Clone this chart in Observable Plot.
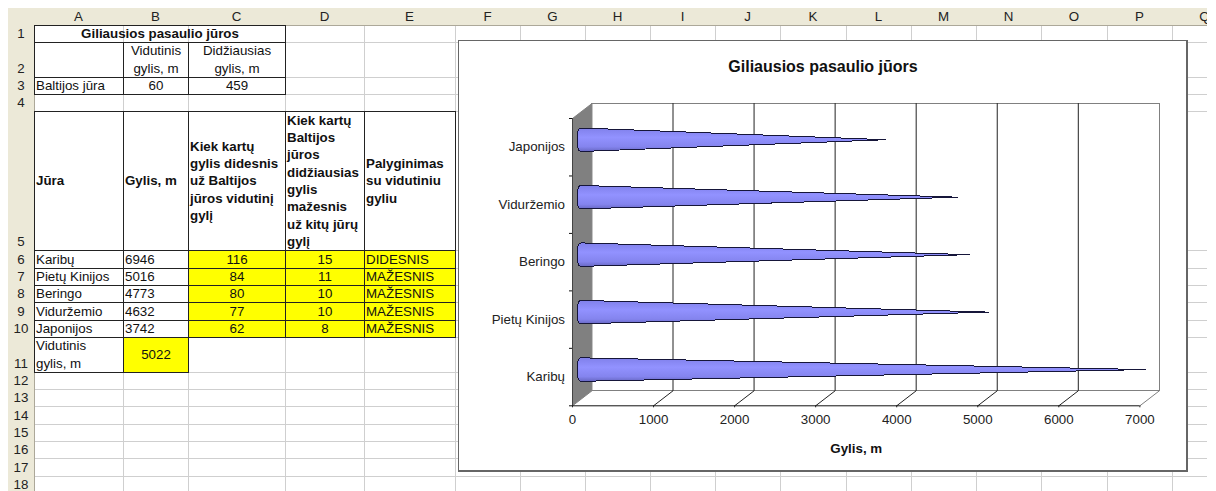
<!DOCTYPE html>
<html lang="lt">
<head>
<meta charset="utf-8">
<script src="https://cdn.jsdelivr.net/npm/d3@7"></script>
<script src="https://cdn.jsdelivr.net/npm/@observablehq/plot@0.6"></script>
<style>
html,body{margin:0;padding:0;background:#fff;width:1216px;height:491px;overflow:hidden}
#sheet{position:absolute;left:8px;top:8px;width:1199px;height:483px;overflow:hidden;font:13.33px "Liberation Sans",Arial,sans-serif;color:#111}
.c{position:absolute;box-sizing:border-box;display:flex;overflow:hidden;white-space:pre;line-height:17.3px;padding:0 1px}
.g{border-right:1px solid #cfcfcf;border-bottom:1px solid #cfcfcf}
.h{background:#ECE9D8;border-right:1px solid #ACA899;border-bottom:1px solid #ACA899;justify-content:center;color:#222;padding:0}
.t{border:1px solid #222}
#box{position:absolute;left:458px;top:40px;width:730px;height:432px;box-sizing:border-box;background:#fff;border:1px solid #666;border-right-width:2px;border-bottom-width:2px}
#ctitle{position:absolute;left:458px;top:58px;width:730px;text-align:center;font:bold 16px "Liberation Sans",Arial,sans-serif;color:#111}
#chart{position:absolute;left:0;top:0}
</style>
</head>
<body>
<div id="sheet"></div>
<div id="box"></div>
<div id="chart"></div>
<div id="ctitle"></div>
<script>
// ---------- data ----------
const seas = ["Karibų", "Pietų Kinijos", "Beringo", "Viduržemio", "Japonijos"];
const depths = [6946, 5016, 4773, 4632, 3742];
const timesDeeper = [116, 84, 80, 77, 62];
const timesShallower = [15, 11, 10, 10, 8];
const comparison = ["DIDESNIS", "MAŽESNIS", "MAŽESNIS", "MAŽESNIS", "MAŽESNIS"];
const balticAverage = 60;
const balticMax = 459;
const averageDepth = 5022;
const xTicks = [0, 1000, 2000, 3000, 4000, 5000, 6000, 7000];
const colLetters = ["A","B","C","D","E","F","G","H","I","J","K","L","M","N","O","P","Q"];
const chartTitle = "Giliausios pasaulio jūors";
const tableTitle = "Giliausios pasaulio jūros";
const axisLabel = "Gylis, m";
const headers = ["Jūra", "Gylis, m", "Kiek kartų\ngylis didesnis\nuž Baltijos\njūros vidutinį\ngylį",
  "Kiek kartų\nBaltijos\njūros\ndidžiausias\ngylis\nmažesnis\nuž kitų jūrų\ngylį", "Palyginimas\nsu vidutiniu\ngyliu"];

// ---------- spreadsheet (HTML) ----------
const X = [34,123,188,285,364,455,520,585,650,715,780,846,911,976,1041,1107,1172,1237];
const Y = [25,42,77,94,111,250,268,285,302,320,337,372,389,406,424,441,458,476,493];
const sheet = document.getElementById("sheet");
function div(cls, x0, y0, x1, y1, text, o = {}) {
  const d = document.createElement("div");
  d.className = "c " + cls;
  d.style.left = (x0 - 8) + "px"; d.style.top = (y0 - 8) + "px";
  d.style.width = (x1 - x0 + 1) + "px"; d.style.height = (y1 - y0 + 1) + "px";
  d.style.alignItems = o.v || "flex-end";
  if (o.center) { d.style.justifyContent = "center"; d.style.textAlign = "center"; }
  if (o.bold) d.style.fontWeight = "bold";
  if (o.bg) d.style.background = o.bg;
  d.textContent = text ?? "";
  sheet.appendChild(d);
}
// blank grid
for (let r = 0; r < Y.length - 1; r++) for (let c = 0; c < X.length - 1; c++) div("g", X[c], Y[r], X[c+1], Y[r+1]);
// headers
div("h", 8, 8, 34, 25);
colLetters.forEach((l, c) => div("h", X[c], 8, X[c+1], 25, l, {v: "center"}));
for (let r = 0; r < Y.length - 1; r++) div("h", 8, Y[r], 34, Y[r+1], String(r + 1));
// content
const cell = (c0, r0, c1, r1, text, o = {}) => div("t", X[c0], Y[r0], X[c1], Y[r1], text, o);
cell(0,0,3,1, tableTitle, {bold:true, center:true});
cell(0,1,1,2, "");
cell(1,1,2,2, "Vidutinis\ngylis, m", {center:true});
cell(2,1,3,2, "Didžiausias\ngylis, m", {center:true});
cell(0,2,1,3, "Baltijos jūra");
cell(1,2,2,3, String(balticAverage), {center:true});
cell(2,2,3,3, String(balticMax), {center:true});
headers.forEach((h, c) => cell(c,4,c+1,5, h, {bold:true, v:"center"}));
seas.forEach((s, i) => {
  const r = 5 + i, yellow = "#FFFF00";
  cell(0,r,1,r+1, s);
  cell(1,r,2,r+1, String(depths[i]));
  cell(2,r,3,r+1, String(timesDeeper[i]), {center:true, bg:yellow});
  cell(3,r,4,r+1, String(timesShallower[i]), {center:true, bg:yellow});
  cell(4,r,5,r+1, comparison[i], {bg:yellow});
});
cell(0,10,1,11, "Vidutinis\ngylis, m");
cell(1,10,2,11, String(averageDepth), {center:true, v:"center", bg:"#FFFF00"});
document.getElementById("ctitle").textContent = chartTitle;

// ---------- chart ----------
// oblique projection of the 3-D box, expressed in data units so all goes through the scales
const depthX = 240, depthY = 0.261;
const P = (x, y, z) => ({x: x + depthX * z, y: y + depthY * z});

const wall = [P(0,0,0), P(0,0,1), P(0,5,1), P(0,5,0), P(0,0,0)];
const backFrame = [P(0,0,1), P(7000,0,1), P(7000,5,1), P(0,5,1)];
const grid = xTicks.slice(1, -1).flatMap(v => [
  {...P(v,0,0), k:v}, {...P(v,0,1), k:v}, {...P(v,5,1), k:v}
]);
const lastDiag = [P(7000,0,0), P(7000,0,1)];
const cones = seas.flatMap((s, i) => {
  const yc = i + 0.5, h = 0.204, cap = 58, n = 14, pts = [];
  const base = P(0, yc, 0.5);
  pts.push({...P(depths[i], yc, 0.5), s});
  for (let k = 0; k <= n; k++) {
    const t = Math.PI * k / n;               // top to bottom of the round base
    const sx = Math.sin(t), cy = Math.cos(t);
    pts.push({x: base.x - cap * Math.pow(sx, 0.55), y: base.y + h * Math.sign(cy) * Math.pow(Math.abs(cy), 0.55), s});
  }
  pts.push({...P(depths[i], yc, 0.5), s});
  return pts;
});

const gradient = () => {
  const defs = d3.create("svg:defs");
  const g = defs.append("linearGradient").attr("id","coneFill").attr("x1",0).attr("x2",0).attr("y1",0).attr("y2",1);
  [[0,"#8080ea"],[0.4,"#9292ff"],[0.8,"#8484ee"],[1,"#6868c4"]].forEach(([o,c]) =>
    g.append("stop").attr("offset",o).attr("stop-color",c));
  return defs.node();
};

const plot = Plot.plot({
  width: 1216, height: 491,
  marginLeft: 572, marginRight: 76.6, marginTop: 118, marginBottom: 85.7,
  style: {background: "transparent", fontFamily: '"Liberation Sans",Arial,sans-serif', fontSize: "13.33px", color: "#222", overflow: "visible"},
  x: {domain: [0, 7000], axis: null},
  y: {domain: [0, 5], axis: null},
  marks: [
    gradient,
    Plot.line(wall, {x:"x", y:"y", fill:"#808080", stroke:"#808080", strokeWidth:1}),
    Plot.line(backFrame, {x:"x", y:"y", stroke:"#808080", strokeWidth:1, shapeRendering:"crispEdges"}),
    Plot.line(lastDiag, {x:"x", y:"y", stroke:"#808080", strokeWidth:1}),
    Plot.line(grid, {x:"x", y:"y", z:"k", stroke:"#222", strokeWidth:1}),
    Plot.ruleX([0], {y1:0, y2:5, stroke:"#444", strokeWidth:1}),
    Plot.ruleY([0], {x1:0, x2:7000, stroke:"#111", strokeWidth:1}),
    Plot.axisY([0,1,2,3,4,5], {tickSize:3, tickFormat:() => "", stroke:"#111", label:null}),
    Plot.axisY([0.5,1.5,2.5,3.5,4.5], {tickSize:0, tickPadding:7.5, tickFormat:d => seas[d - 0.5], fill:"#222", label:null}),
    Plot.axisX(xTicks, {tickSize:2, tickPadding:7, tickFormat:d => String(d), fill:"#222", label:null}),
    Plot.line(cones, {x:"x", y:"y", z:"s", fill:"url(#coneFill)", stroke:"#16163a", strokeWidth:1, shapeRendering:"crispEdges"}),
    Plot.text([axisLabel], {x:3500, frameAnchor:"bottom", dy:47, fontWeight:"bold", fill:"#111"})
  ]
});
document.getElementById("chart").appendChild(plot);
</script>
</body>
</html>
